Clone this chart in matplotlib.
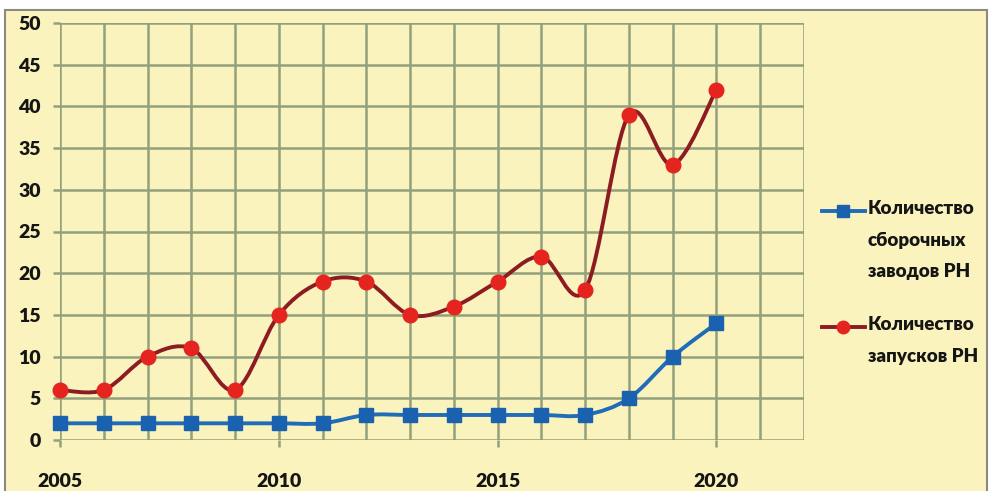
import numpy as np
import matplotlib.pyplot as plt
from matplotlib.path import Path
from matplotlib.patches import PathPatch, Rectangle
from matplotlib.lines import Line2D

years = [2005, 2006, 2007, 2008, 2009, 2010, 2011, 2012,
         2013, 2014, 2015, 2016, 2017, 2018, 2019, 2020]
plants = [2, 2, 2, 2, 2, 2, 2, 3, 3, 3, 3, 3, 3, 5, 10, 14]
launches = [6, 6, 10, 11, 6, 15, 19, 19, 15, 16, 19, 22, 18, 39, 33, 42]

label_plants = "Количество\nсборочных\nзаводов РН"
label_launches = "Количество\nзапусков РН"

BG = "#faf3bd"
GRID = "#93a07c"
BLUE_LINE = "#1f6cb8"
BLUE_MARK = "#1a62b0"
RED_LINE = "#8c1c22"
RED_MARK = "#e5231f"
TEXT = "#151515"

plt.rcParams['font.family'] = ['Lato', 'DejaVu Sans']


def smooth_path(x, y):
    # excel-style smoothed line: cubic bezier segments, catmull-rom tangents
    x = np.asarray(x, float)
    y = np.asarray(y, float)
    pts = np.column_stack([x, y])
    verts = [pts[0]]
    codes = [Path.MOVETO]
    n = len(pts)
    for i in range(n - 1):
        p0 = pts[i - 1] if i > 0 else pts[i]
        p1 = pts[i]
        p2 = pts[i + 1]
        p3 = pts[i + 2] if i + 2 < n else pts[i + 1]
        c1 = p1 + (p2 - p0) / 6.0
        c2 = p2 - (p3 - p1) / 6.0
        verts += [c1, c2, p2]
        codes += [Path.CURVE4] * 3
    return Path(verts, codes)


fig = plt.figure(figsize=(9.92, 4.91), dpi=100)
fig.patch.set_facecolor("white")

# yellow panel with a grey frame
fig.add_artist(Rectangle((5 / 992, -0.05), 982 / 992, 1.05 - 10 / 491,
                         transform=fig.transFigure, facecolor=BG,
                         edgecolor="#8a8a80", linewidth=1.5, zorder=0))

ax = fig.add_axes([60 / 992, 51 / 491, 744 / 992, 417 / 491])
ax.set_facecolor("none")
ax.set_xlim(2005, 2022)
ax.set_ylim(0, 50)

for s in ax.spines.values():
    s.set_visible(False)

ax.set_yticks(np.arange(0, 51, 5))
ax.set_xticks([2005, 2010, 2015, 2020])
ax.set_xticks(np.arange(2005, 2023, 1), minor=True)
ax.tick_params(axis="y", length=5, width=1.8, color=GRID, pad=9,
               labelsize=14)
ax.tick_params(axis="x", which="major", length=5, width=1.8, color=GRID,
               pad=19, labelsize=14)
ax.tick_params(axis="x", which="minor", length=0)
for lab in ax.get_xticklabels() + ax.get_yticklabels():
    lab.set_fontweight("heavy")
    lab.set_color(TEXT)

for yv in np.arange(0, 51, 5):
    ax.axhline(yv, color=GRID, linewidth=1.8, zorder=1)
for xv in np.arange(2005, 2023, 1):
    ax.axvline(xv, color=GRID, linewidth=1.8, zorder=1)

ax.add_patch(PathPatch(smooth_path(years, plants), facecolor="none",
                       edgecolor=BLUE_LINE, linewidth=2.8, zorder=3,
                       clip_on=False))
ax.plot(years, plants, linestyle="none", marker="s", markersize=9.5,
        color=BLUE_MARK, zorder=4, clip_on=False)

ax.add_patch(PathPatch(smooth_path(years, launches), facecolor="none",
                       edgecolor=RED_LINE, linewidth=2.8, zorder=3,
                       clip_on=False))
ax.plot(years, launches, linestyle="none", marker="o", markersize=10.5,
        color=RED_MARK, zorder=4, clip_on=False)


# legend on the right
def legend_entry(y_px, line_color, mark_color, marker, ms, text):
    yf = 1 - y_px / 491
    fig.add_artist(Line2D([822 / 992, 865 / 992], [yf, yf],
                          transform=fig.transFigure, color=line_color,
                          linewidth=2.8))
    fig.add_artist(Line2D([843 / 992], [yf], transform=fig.transFigure,
                          marker=marker, markersize=ms, color=mark_color,
                          linestyle="none"))
    fig.text(868 / 992, yf + 11 / 491, text, ha="left", va="top",
             fontsize=13.5, fontweight="heavy", color=TEXT,
             linespacing=2.05)


legend_entry(211, BLUE_LINE, BLUE_MARK, "s", 8, label_plants)
legend_entry(327, RED_LINE, RED_MARK, "o", 9, label_launches)

fig.savefig("out.png", dpi=100, facecolor="white")
